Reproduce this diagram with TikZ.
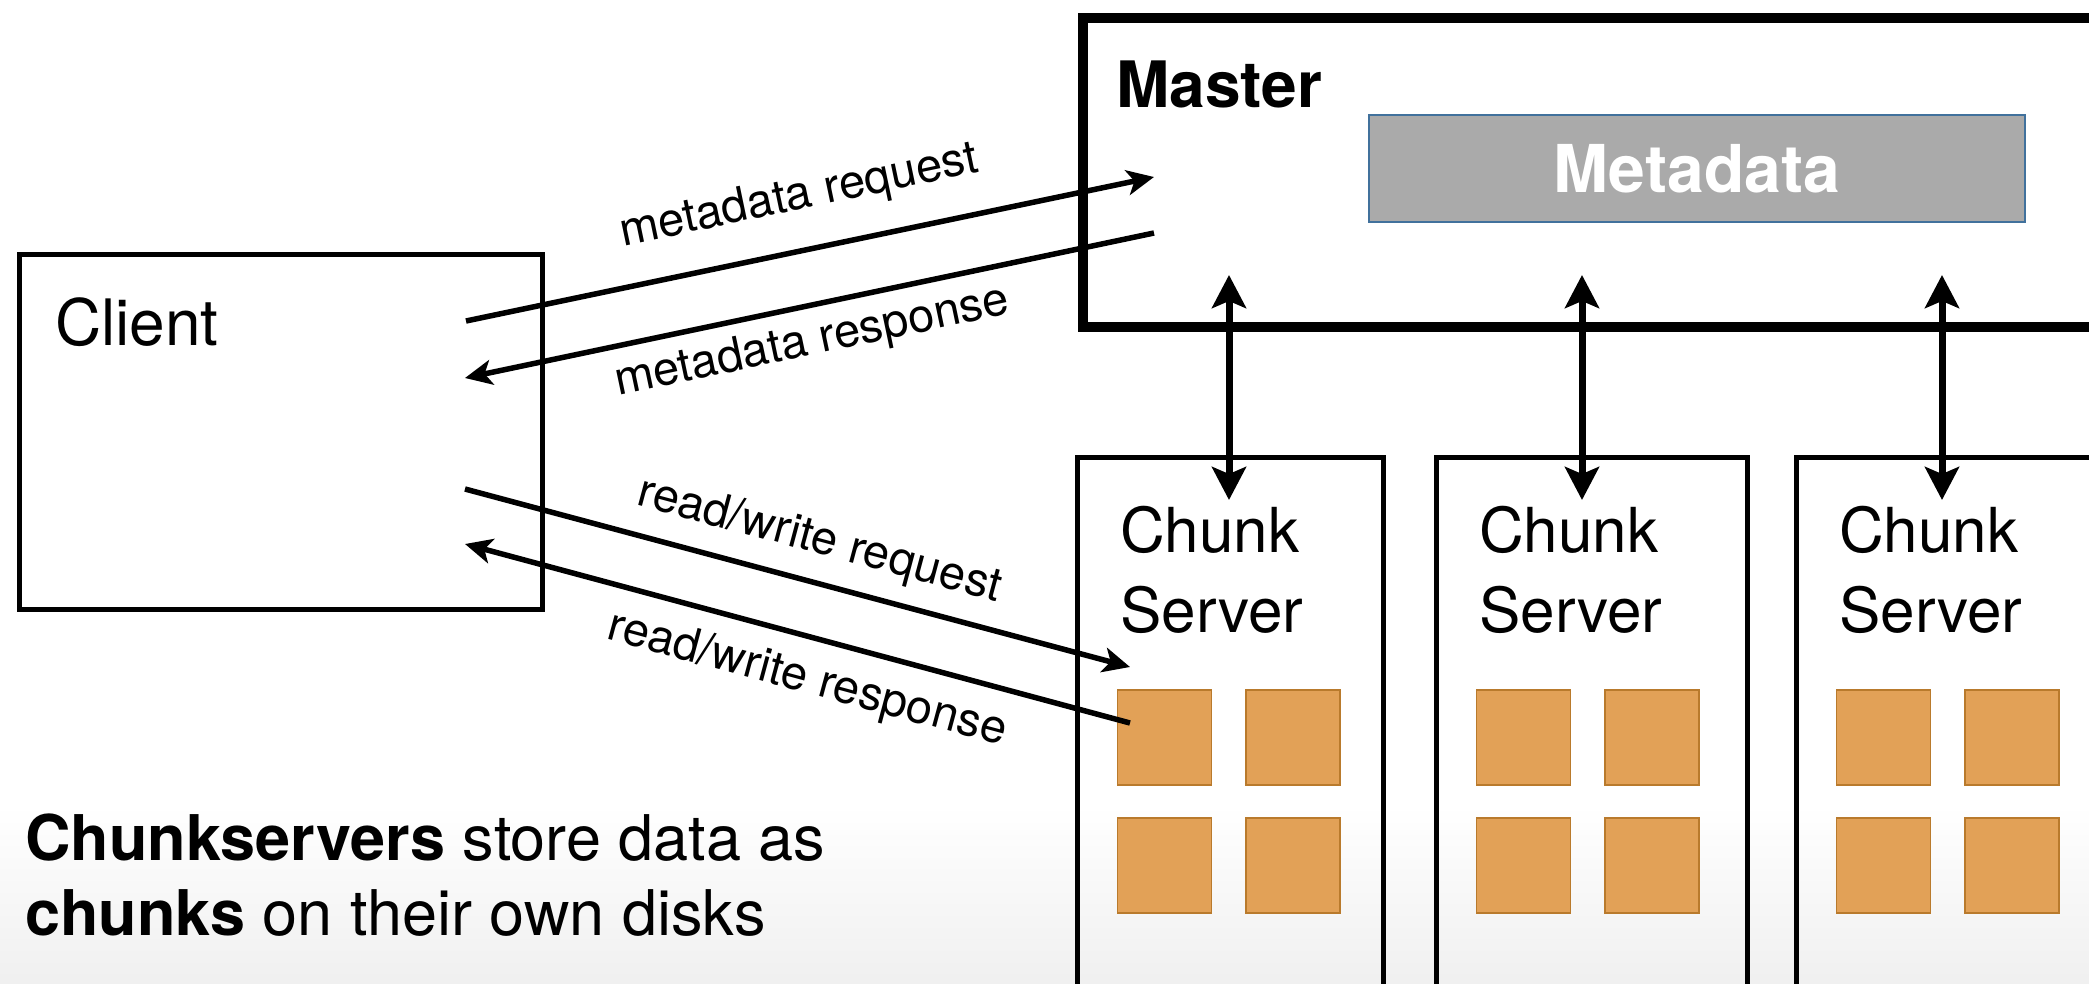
\documentclass[tikz,border=0pt]{standalone}
\usepackage{fontspec}
\setmainfont{TeX Gyre Heros}
\usetikzlibrary{arrows.meta,calc}
\definecolor{chunkfill}{HTML}{E2A157}
\definecolor{chunkline}{HTML}{B97A2C}
\definecolor{metafill}{HTML}{AAAAAA}
\definecolor{metaline}{HTML}{41719C}
\begin{document}
\begin{tikzpicture}[x=1pt,y=-1pt,
  thinbox/.style={draw=black, line width=4.5pt, inner sep=0pt, anchor=north west},
  thickbox/.style={draw=black, line width=9.5pt, inner sep=0pt, anchor=north west},
  chunk/.style={fill=chunkfill, draw=chunkline, line width=1.5pt},
  bigtext/.style={inner sep=0pt, anchor=north west, align=left},
  lbl/.style={inner sep=0pt, sloped, font=\fontsize{47}{50}\selectfont},
  diag/.style={line width=5.5pt, -{Stealth[length=27pt,width=25pt,inset=7pt]}},
  vert/.style={line width=7pt, {Stealth[length=33pt,width=34pt,inset=7pt]}-{Stealth[length=33pt,width=34pt,inset=7pt]}}
]
\useasboundingbox (0,0) rectangle (2089,983);
\shade[top color=white, bottom color=black!6] (0,805) rectangle (2089,983);

% Client
\node[thinbox, minimum width=523pt, minimum height=355pt] (client) at (17,252) {};
\node[bigtext, font=\fontsize{64}{70}\selectfont] (clientlbl) at (55,297) {Client};

% Master
\node[thickbox, minimum width=1150pt, minimum height=309pt] (master) at (1078,13) {};
\node[bigtext, font=\bfseries\fontsize{64}{70}\selectfont] (masterlbl) at (1116,61) {Master};
\node[fill=metafill, draw=metaline, line width=2pt, inner sep=0pt, anchor=north west,
      minimum width=656pt, minimum height=107pt, text=white,
      font=\bfseries\fontsize{66}{70}\selectfont] (meta) at (1368,114) {Metadata};

% Chunk servers
\foreach \x/\w/\i in {1075/306/1, 1434/311/2, 1794/420/3}{
  \node[thinbox, minimum width=\w pt, minimum height=620pt] (cs\i) at (\x,455) {};
  \node[bigtext, font=\fontsize{62}{80}\selectfont] (cslbl\i) at (\x+45,506) {Chunk\\Server};
  \draw[chunk] (\x+42.5,690) rectangle ++(94,95);
  \draw[chunk] (\x+171,690) rectangle ++(94,95);
  \draw[chunk] (\x+42.5,818) rectangle ++(94,95);
  \draw[chunk] (\x+171,818) rectangle ++(94,95);
}

% connector end points
\coordinate (mreqA) at (466,321);
\coordinate (mreqB) at (1154,177);
\coordinate (mresA) at (1154,233);
\coordinate (mresB) at (465,378);
\coordinate (rwreqA) at (465,489);
\coordinate (rwreqB) at (1130,667);
\coordinate (rwresA) at (1130,723);
\coordinate (rwresB) at (465,544);

\draw[diag] (mreqA) -- node[lbl, pos=0.5, above=28pt] {metadata request} (mreqB);
\draw[diag] (mresA) -- node[lbl, pos=0.507, below=12pt] {metadata response} (mresB);
\draw[diag] (rwreqA) -- node[lbl, pos=0.517, above=16pt] {read/write request} (rwreqB);
\draw[diag] (rwresA) -- node[lbl, pos=0.469, below=18pt] {read/write response} (rwresB);

% master <-> chunk servers
\foreach \x/\i in {1229/1, 1582/2, 1942/3}{
  \coordinate (mt\i) at (\x,275);
  \coordinate (cb\i) at (\x,500);
  \draw[vert] (mt\i) -- (cb\i);
}

% caption
\node[bigtext, font=\fontsize{63}{75}\selectfont] (caption) at (25,814)
  {{\bfseries Chunkservers} store data as\\{\bfseries chunks} on their own disks};
\end{tikzpicture}
\end{document}
